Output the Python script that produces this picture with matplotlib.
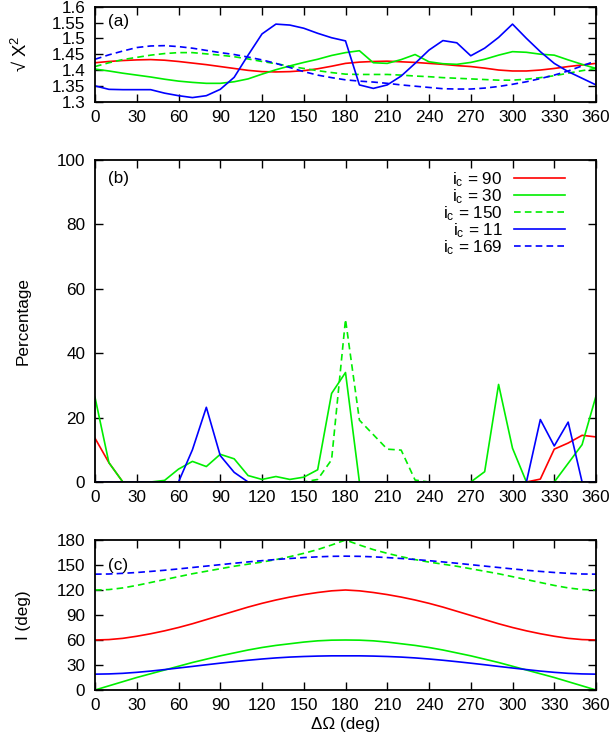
import matplotlib
matplotlib.use("Agg")
import matplotlib.pyplot as plt

plt.rcParams['font.family'] = ['Liberation Sans', 'DejaVu Sans']
plt.rcParams['mathtext.fontset'] = 'custom'
plt.rcParams['mathtext.rm'] = 'Liberation Sans'
plt.rcParams['mathtext.it'] = 'Liberation Sans'

# delta Omega (deg)
dOmega = list(range(0, 361, 10))
ic_labels = ["90", "30", "150", "11", "169"]

# (a) sqrt(chi^2)
chi_90 = [1.423, 1.427, 1.430, 1.432, 1.433, 1.431, 1.427, 1.422, 1.417, 1.411, 1.405, 1.399, 1.395,
          1.394, 1.395, 1.398, 1.404, 1.412, 1.421, 1.425, 1.427, 1.428, 1.426, 1.424, 1.421, 1.418,
          1.414, 1.411, 1.406, 1.400, 1.397, 1.397, 1.400, 1.405, 1.411, 1.416, 1.421]
chi_30 = [1.403, 1.397, 1.390, 1.384, 1.378, 1.371, 1.365, 1.361, 1.358, 1.358, 1.363, 1.372, 1.387,
          1.401, 1.413, 1.424, 1.434, 1.446, 1.455, 1.461, 1.423, 1.421, 1.433, 1.449, 1.426, 1.420,
          1.418, 1.424, 1.434, 1.447, 1.458, 1.456, 1.450, 1.447, 1.432, 1.418, 1.405]
chi_150 = [1.411, 1.423, 1.433, 1.440, 1.447, 1.452, 1.455, 1.455, 1.451, 1.447, 1.442, 1.435, 1.427,
           1.420, 1.412, 1.405, 1.398, 1.392, 1.387, 1.386, 1.386, 1.386, 1.384, 1.381, 1.379, 1.376,
           1.374, 1.372, 1.370, 1.368, 1.368, 1.371, 1.376, 1.382, 1.390, 1.398, 1.405]
chi_11 = [1.350, 1.339, 1.338, 1.338, 1.338, 1.327, 1.319, 1.313, 1.319, 1.339, 1.377, 1.447, 1.514,
          1.545, 1.542, 1.532, 1.516, 1.502, 1.492, 1.353, 1.342, 1.353, 1.381, 1.421, 1.463, 1.493,
          1.486, 1.445, 1.469, 1.503, 1.545, 1.500, 1.458, 1.421, 1.395, 1.374, 1.353]
chi_169 = [1.434, 1.448, 1.460, 1.471, 1.476, 1.477, 1.474, 1.469, 1.462, 1.455, 1.449, 1.441, 1.432,
           1.421, 1.408, 1.395, 1.384, 1.376, 1.369, 1.365, 1.362, 1.358, 1.353, 1.349, 1.345, 1.341,
           1.340, 1.340, 1.343, 1.348, 1.355, 1.363, 1.373, 1.384, 1.397, 1.413, 1.429]

# (b) percentage
pct_90 = [13.6, 6, 0, 0, 0, 0, 0, 0, 0, 0, 0, 0, 0, 0, 0, 0, 0, 0, 0, 0, 0, 0, 0, 0, 0, 0, 0, 0,
          0, 0, 0, 0, 0.9, 10.2, 12.1, 14.5, 14]
pct_30 = [26.3, 6, 0, 0, 0, 0.5, 4, 6.4, 4.8, 8.6, 7.2, 2, 0.8, 1.7, 0.8, 1.5, 3.8, 27.5, 34, 0, 0,
          0, 0, 0, 0, 0, 0, 0, 3.2, 30.3, 10.5, 0, 0, 0, 5.8, 11.6, 26.7]
pct_150 = [0, 0, 0, 0, 0, 0, 0, 0, 0, 0, 0, 0, 0, 0, 0, 0, 0.8, 6.9, 50.5, 19.2, 14.7, 10.2, 9.9,
           0.6, 0, 0, 0, 0, 0, 0, 0, 0, 0, 0, 0, 0, 0]
pct_11 = [0, 0, 0, 0, 0, 0, 0, 10, 23.2, 8.2, 3, 0, 0, 0, 0, 0, 0, 0, 0, 0, 0, 0, 0, 0, 0, 0, 0,
          0, 0, 0, 0, 0, 19.4, 11.2, 18.6, 0, 0]
pct_169 = [0, 0, 0, 0, 0, 0, 0, 0, 0, 0, 0, 0, 0, 0, 0, 0, 0, 0, 0, 0, 0, 0, 0, 0, 0, 0, 0, 0,
           0, 0, 0, 0, 0, 0, 0, 0, 0]

# (c) inclination I (deg)
inc_90 = [60, 60.5, 62, 64.5, 67.5, 71, 75, 79.5, 84.5, 89.5, 94.5, 99.5, 104, 108, 111.5, 114.5,
          117, 119, 120, 119, 117, 114.5, 111.5, 108, 104, 99.5, 94.5, 89.5, 84.5, 79.5, 75, 71,
          67.5, 64.5, 62, 60.5, 60]
inc_30 = [0, 5, 10, 15, 19.5, 24, 28.5, 33, 37, 41, 44.5, 48, 51, 53.5, 55.5, 57.5, 59, 59.8, 60,
          59.8, 59, 57.5, 55.5, 53.5, 51, 48, 44.5, 41, 37, 33, 28.5, 24, 19.5, 15, 10, 5, 0]
inc_150 = [120, 120.5, 122.5, 125.5, 129, 132.5, 136, 139.5, 142.5, 145.5, 148.5, 151, 153.5, 156.5,
           160, 164, 168.5, 174, 180, 174, 168.5, 164, 160, 156.5, 153.5, 151, 148.5, 145.5, 142.5,
           139.5, 136, 132.5, 129, 125.5, 122.5, 120.5, 120]
inc_11 = [19, 19.3, 20, 21.2, 22.7, 24.5, 26.4, 28.3, 30.3, 32.2, 34, 35.7, 37.2, 38.5, 39.5, 40.2,
          40.7, 41, 41, 41, 40.7, 40.2, 39.5, 38.5, 37.2, 35.7, 34, 32.2, 30.3, 28.3, 26.4, 24.5,
          22.7, 21.2, 20, 19.3, 19]
inc_169 = [139, 139.2, 140, 141, 142.3, 143.7, 145.3, 147, 148.7, 150.4, 152.1, 153.7, 155.2, 156.6,
           157.8, 158.9, 159.8, 160.4, 160.6, 160.4, 159.8, 158.9, 157.8, 156.6, 155.2, 153.7,
           152.1, 150.4, 148.7, 147, 145.3, 143.7, 142.3, 141, 140, 139.2, 139]

colors = ["#ff0000", "#00ee00", "#00ee00", "#0000ff", "#0000ff"]
styles = ["-", "-", (0, (4, 2.5)), "-", (0, (4, 2.5))]
lw = 1.2
fs = 12.3

fig = plt.figure(figsize=(6.12, 7.45), dpi=100)
L, W = 95 / 612, 501 / 612
ax_a = fig.add_axes([L, 1 - 101.7 / 745, W, 95 / 745])
ax_b = fig.add_axes([L, 1 - 482 / 745, W, 322 / 745])
ax_c = fig.add_axes([L, 1 - 690 / 745, W, 150 / 745])


def style_axes(ax):
    ax.set_xlim(0, 360)
    ax.set_xticks(range(0, 361, 30))
    ax.tick_params(direction="in", top=True, right=True, length=6, width=1,
                   labelsize=fs)
    ax.tick_params(axis="y", pad=7)
    ax.tick_params(axis="x", pad=6)
    for s in ax.spines.values():
        s.set_linewidth(1.3)


series_a = [chi_90, chi_30, chi_150, chi_11, chi_169]
series_b = [pct_90, pct_30, pct_150, pct_11, pct_169]
series_c = [inc_90, inc_30, inc_150, inc_11, inc_169]

for ax, series in [(ax_a, series_a), (ax_b, series_b), (ax_c, series_c)]:
    for y, c, ls, lab in zip(series, colors, styles, ic_labels):
        ax.plot(dOmega, y, color=c, linestyle=ls, linewidth=lw,
                label="i$_{\\rm c}$ = " + lab)
    style_axes(ax)

ax_a.set_ylim(1.3, 1.6)
ax_a.set_yticks([1.3, 1.35, 1.4, 1.45, 1.5, 1.55, 1.6])
ax_a.set_yticklabels(["1.3", "1.35", "1.4", "1.45", "1.5", "1.55", "1.6"])
ax_a.set_ylabel("\u221a X$^2$", fontsize=fs + 1)
ax_a.yaxis.set_label_coords(-0.128, 0.5)
ax_a.text(0.025, 0.8, "(a)", transform=ax_a.transAxes, fontsize=fs)

ax_b.set_ylim(0, 100)
ax_b.set_yticks(range(0, 101, 20))
ax_b.set_ylabel("Percentage", fontsize=fs)
ax_b.yaxis.set_label_coords(-0.128, 0.5)
ax_b.text(0.025, 0.93, "(b)", transform=ax_b.transAxes, fontsize=fs)
ax_b.legend(loc="upper right", bbox_to_anchor=(0.962, 1.005), frameon=False,
            markerfirst=False, fontsize=fs, handlelength=3.0, handletextpad=0.65,
            labelspacing=-0.1, borderpad=0.2)

ax_c.set_ylim(0, 180)
ax_c.set_yticks(range(0, 181, 30))
ax_c.set_ylabel("I (deg)", fontsize=fs)
ax_c.yaxis.set_label_coords(-0.128, 0.5)
ax_c.set_xlabel("\u0394\u03a9 (deg)", fontsize=fs, labelpad=3)
ax_c.text(0.025, 0.8, "(c)", transform=ax_c.transAxes, fontsize=fs)

fig.savefig("out.png", dpi=100)
